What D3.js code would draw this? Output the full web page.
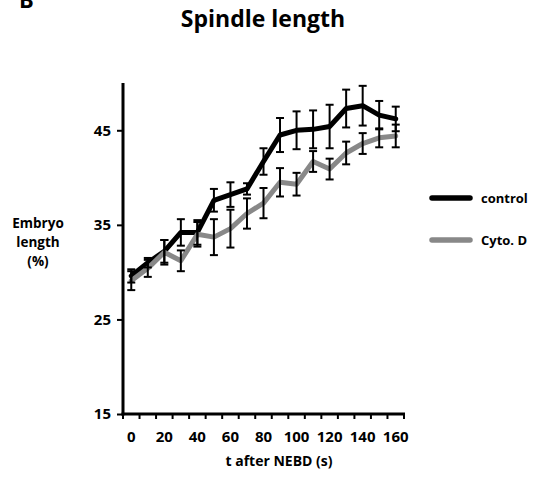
<!DOCTYPE html>
<html>
<head>
<meta charset="utf-8">
<script src="https://cdn.jsdelivr.net/npm/d3@7"></script>
<style>
  body { margin: 0; background: #fff; }
  svg { display: block; font-family: "Open Sans", sans-serif; font-weight: bold; }
</style>
</head>
<body>
<svg id="svg" width="534" height="482"></svg>
<script>
// values (t in s, length in % of embryo)
const times = [0, 10, 20, 30, 40, 50, 60, 70, 80, 90, 100, 110, 120, 130, 140, 150, 160];
const control = [29.6, 31.0, 32.2, 34.2, 34.2, 37.6, 38.2, 38.8, 41.7, 44.5, 45.0, 45.1, 45.4, 47.3, 47.6, 46.6, 46.2];
const controlErr = [0.7, 0.5, 1.2, 1.4, 1.3, 1.2, 1.3, 0.6, 1.4, 1.8, 2.0, 2.0, 2.3, 2.0, 2.1, 1.5, 1.3];
const cytoD = [29.1, 30.4, 32.1, 31.2, 34.0, 33.7, 34.6, 36.2, 37.3, 39.5, 39.3, 41.7, 40.9, 42.6, 43.6, 44.2, 44.4];
const cytoDErr = [1.0, 0.9, 1.3, 1.1, 1.3, 1.9, 2.0, 1.6, 1.6, 1.5, 1.2, 1.1, 1.1, 1.2, 1.1, 1.0, 1.2];
const yTicks = [15, 25, 35, 45];
const xLabels = [0, 20, 40, 60, 80, 100, 120, 140, 160];

const series = [
  { name: 'control', values: control, err: controlErr, color: '#000000' },
  { name: 'Cyto. D', values: cytoD, err: cytoDErr, color: '#888888' }
];

const svg = d3.select('#svg');

const x = d3.scaleBand().domain(times).range([123, 404]);
const y = d3.scaleLinear().domain([15, 50]).range([414, 83]);
const cx = t => x(t) + x.bandwidth() / 2;

// panel letter, cut at the top edge
svg.append('text').attr('x', 19).attr('y', 8).attr('font-size', 22).text('B');

// title
svg.append('text').attr('x', 263).attr('y', 27).attr('text-anchor', 'middle')
  .attr('font-size', 23).text('Spindle length');

// y axis
svg.append('g')
  .attr('transform', 'translate(123,0)')
  .call(d3.axisLeft(y).tickValues(yTicks).tickSize(6).tickPadding(6))
  .call(g => g.select('.domain').remove())
  .call(g => g.selectAll('line').attr('stroke-width', 2))
  .call(g => g.selectAll('text').attr('font-size', 15).attr('font-family', 'Open Sans').attr('font-weight', 'bold').attr('fill', '#000'));

svg.append('line')
  .attr('x1', 123).attr('x2', 123)
  .attr('y1', y(50)).attr('y2', y(15) + 1.5)
  .attr('stroke', '#000').attr('stroke-width', 3);

// x axis: tick marks on category boundaries, labels every 20 s
const bounds = times.map(t => x(t)).concat([x.range()[1]]);
svg.append('g').selectAll('line.xt')
  .data(bounds)
  .enter().append('line')
  .attr('x1', d => d).attr('x2', d => d)
  .attr('y1', y(15)).attr('y2', y(15) + 5)
  .attr('stroke', '#000').attr('stroke-width', 2);

svg.append('line')
  .attr('x1', 121.5).attr('x2', 405)
  .attr('y1', y(15)).attr('y2', y(15))
  .attr('stroke', '#000').attr('stroke-width', 3);

svg.append('g').selectAll('text.xl')
  .data(xLabels)
  .enter().append('text')
  .attr('x', d => cx(d))
  .attr('y', y(15) + 28)
  .attr('text-anchor', 'middle')
  .attr('font-size', 15)
  .text(d => d);

svg.append('text').attr('x', 279).attr('y', 466).attr('text-anchor', 'middle')
  .attr('font-size', 14).text('t after NEBD (s)');

// y axis title
const yTitle = svg.append('text').attr('text-anchor', 'middle').attr('font-size', 13.5);
['Embryo', 'length', '(%)'].forEach((s, i) => {
  yTitle.append('tspan').attr('x', 38).attr('y', 228 + i * 19).text(s);
});

// lines
const line = d3.line()
  .x((d, i) => cx(times[i]))
  .y(d => y(d));

series.forEach(s => {
  svg.append('path')
    .datum(s.values)
    .attr('fill', 'none')
    .attr('stroke', s.color)
    .attr('stroke-width', 5)
    .attr('stroke-linejoin', 'round')
    .attr('stroke-linecap', 'round')
    .attr('d', line);
});

// error bars
series.forEach(s => {
  const g = svg.append('g').attr('stroke', '#000').attr('stroke-width', 2);
  const pts = s.values.map((v, i) => ({ t: times[i], v: v, e: s.err[i] }));
  g.selectAll('line.v').data(pts).enter().append('line')
    .attr('x1', d => cx(d.t)).attr('x2', d => cx(d.t))
    .attr('y1', d => y(d.v + d.e)).attr('y2', d => y(d.v - d.e));
  g.selectAll('line.top').data(pts).enter().append('line')
    .attr('x1', d => cx(d.t) - 4).attr('x2', d => cx(d.t) + 4)
    .attr('y1', d => y(d.v + d.e)).attr('y2', d => y(d.v + d.e));
  g.selectAll('line.bot').data(pts).enter().append('line')
    .attr('x1', d => cx(d.t) - 4).attr('x2', d => cx(d.t) + 4)
    .attr('y1', d => y(d.v - d.e)).attr('y2', d => y(d.v - d.e));
});

// legend
const legend = svg.append('g').selectAll('g')
  .data(series)
  .enter().append('g')
  .attr('transform', (d, i) => 'translate(0,' + (198 + i * 42) + ')');
legend.append('line')
  .attr('x1', 432).attr('x2', 470)
  .attr('stroke', d => d.color).attr('stroke-width', 5.5).attr('stroke-linecap', 'round');
legend.append('text')
  .attr('x', 481).attr('y', 4.5)
  .attr('font-size', 13)
  .text(d => d.name);
</script>
</body>
</html>
